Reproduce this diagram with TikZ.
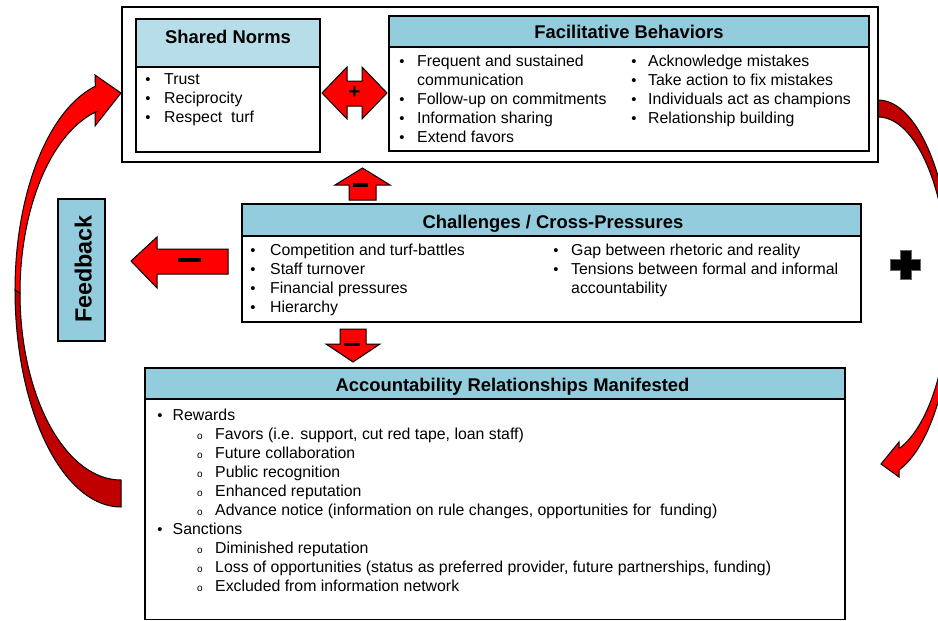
\documentclass[tikz,border=0pt]{standalone}
\usepackage{fontspec}
\setmainfont{Liberation Sans}
\definecolor{hdr}{HTML}{93CDDD}
\definecolor{hdrlight}{HTML}{B7DEE8}
\definecolor{brightred}{HTML}{FF0000}
\definecolor{darkred}{HTML}{C00000}
\newcommand\itm[5]{\node[bul] (#1-b) at (#2,#4) {•}; \node[body] (#1) at (#3,#4) {#5};}
\newcommand\sitm[5]{\node[subbul] (#1-b) at (#2,#4) {o}; \node[body] (#1) at (#3,#4) {#5};}
\newcommand\cont[4]{\node[body] (#1) at (#2,#3) {#4};}
\begin{document}
\begin{tikzpicture}[x=1pt,y=-1pt,
  boxnode/.style={draw=black, line width=1.6pt, inner sep=0pt, outer sep=0pt, anchor=north west},
  hdrnode/.style={draw=black, line width=1.6pt, inner sep=0pt, outer sep=0pt, anchor=north},
  hdrtext/.style={anchor=base, inner sep=0pt, font=\fontsize{18.4}{22}\selectfont\bfseries},
  body/.style={anchor=base west, inner sep=0pt, font=\fontsize{15.85}{19}\selectfont},
  bul/.style={anchor=base, inner sep=0pt, font=\fontsize{14.75}{18}\selectfont},
  subbul/.style={anchor=base, inner sep=0pt, font=\fontsize{10}{11}\selectfont},
  arrowline/.style={draw=black, line width=1pt, line join=miter},
  blockarrow/.style={fill=brightred, draw=black, line width=1pt, line join=miter},
  minusbar/.style={fill=black, draw=none},
]
\useasboundingbox (0,0) rectangle (938,621);
\clip (0,0) rectangle (938,621);

% ---------- curved feedback arrows ----------
% left arrow (lower dark part, upper bright part)
\draw[arrowline, fill=darkred]
  plot[domain=90:180, samples=50] ({121+106*cos(\x)},{290+217*sin(\x)})
  -- plot[domain=180:90, samples=50] ({121+101*cos(\x)},{293+187*sin(\x)}) -- cycle;
\draw[arrowline, fill=brightred]
  plot[domain=180:256, samples=50] ({121+106*cos(\x)},{290+210*sin(\x)})
  -- (95,75) -- (121,93) -- (95,126) -- (95,112.3)
  -- plot[domain=255.1:180, samples=50] ({121+101*cos(\x)},{293+187*sin(\x)}) -- cycle;
% right arrow (upper dark part, lower bright part)
\draw[arrowline, fill=darkred]
  plot[domain=-90:0, samples=50] ({878+75*cos(\x)},{290+190*sin(\x)})
  -- plot[domain=0:-90, samples=50] ({878+71*cos(\x)},{290+173*sin(\x)}) -- cycle;
\draw[arrowline, fill=brightred]
  plot[domain=0:73.74, samples=50] ({878+75*cos(\x)},{290+187.5*sin(\x)})
  -- (899,477) -- (881,464) -- (899,442)
  -- plot[domain=72.8:0, samples=50] ({878+71*cos(\x)},{290+166*sin(\x)}) -- cycle;

% ---------- outer frame ----------
\node[boxnode, line width=2.6pt, minimum width=756pt, minimum height=155pt] (outer) at (122,7) {};

% ---------- Shared Norms ----------
\node[boxnode, minimum width=184pt, minimum height=133pt] (sn) at (136,19) {};
\node[hdrnode, fill=hdrlight, minimum width=184pt, minimum height=48pt] (snh) at (sn.north) {};
\node[hdrtext] (snt) at (228,43.3) {Shared Norms};
\itm{sn1}{148}{164}{84}{Trust}
\itm{sn2}{148}{164}{103}{Reciprocity}
\itm{sn3}{148}{164}{122}{Respect~ turf}

% ---------- double arrow ----------
\draw[blockarrow] (322,93) -- (347,67) -- (347,81) -- (362,81) -- (362,67) -- (387,93)
  -- (362,119) -- (362,106) -- (347,106) -- (347,119) -- cycle;
\node[inner sep=0pt, font=\fontsize{20}{20}\selectfont\bfseries] (dplus) at (354.5,93) {+};

% ---------- Facilitative Behaviors ----------
\node[boxnode, minimum width=480pt, minimum height=135pt] (fb) at (389,16) {};
\node[hdrnode, fill=hdr, minimum width=480pt, minimum height=31pt] (fbh) at (fb.north) {};
\node[hdrtext] (fbt) at (629,38.5) {Facilitative Behaviors};
\itm{fa1}{402}{417}{66.5}{Frequent and sustained}
\cont{fa1c}{417}{85.5}{communication}
\itm{fa2}{402}{417}{104.5}{Follow-up on commitments}
\itm{fa3}{402}{417}{123.5}{Information sharing}
\itm{fa4}{402}{417}{142.5}{Extend favors}
\itm{fb1}{634}{648}{66.5}{Acknowledge mistakes}
\itm{fb2}{634}{648}{85.5}{Take action to fix mistakes}
\itm{fb3}{634}{648}{104.5}{Individuals act as champions}
\itm{fb4}{634}{648}{123.5}{Relationship building}

% ---------- up arrow (minus) ----------
\draw[blockarrow] (362.5,168) -- (390,185) -- (376,185) -- (376,200) -- (349,200) -- (349,185) -- (335,185) -- cycle;
\fill[minusbar] (353,183.3) rectangle (368,186.7);

% ---------- Challenges ----------
\node[boxnode, minimum width=619pt, minimum height=118pt] (ch) at (242,204) {};
\node[hdrnode, fill=hdr, minimum width=619pt, minimum height=32pt] (chh) at (ch.north) {};
\node[hdrtext] (cht) at (553,228.3) {Challenges / Cross-Pressures};
\itm{ca1}{253}{270}{255}{Competition and turf-battles}
\itm{ca2}{253}{270}{274}{Staff turnover}
\itm{ca3}{253}{270}{293}{Financial pressures}
\itm{ca4}{253}{270}{312}{Hierarchy}
\itm{cb1}{556}{571}{255}{Gap between rhetoric and reality}
\itm{cb2}{556}{571}{274}{Tensions between formal and informal}
\cont{cb2c}{571}{293}{accountability}

% ---------- left arrow (minus) ----------
\draw[blockarrow] (131,261) -- (157,237) -- (157,249) -- (228,249) -- (228,274) -- (157,274) -- (157,288) -- cycle;
\fill[minusbar] (178,258.3) rectangle (201,261.7);

% ---------- Feedback ----------
\node[boxnode, fill=hdr, line width=1.4pt, minimum width=47pt, minimum height=142pt] (fbk) at (58,199) {};
\node[anchor=base, inner sep=0pt, rotate=90, font=\fontsize{23.4}{26}\selectfont\bfseries] (fbkt) at (91.7,269) {Feedback};

% ---------- down arrow (minus) ----------
\draw[blockarrow] (340,329) -- (366,329) -- (366,344) -- (380,344) -- (353,362) -- (326,344) -- (340,344) -- cycle;
\fill[minusbar] (344,343.3) rectangle (359.5,346.3);

% ---------- Accountability ----------
\node[boxnode, minimum width=700pt, minimum height=251.5pt] (ar) at (145,368) {};
\node[hdrnode, fill=hdr, minimum width=700pt, minimum height=31pt] (arh) at (ar.north) {};
\node[hdrtext] (art) at (512.5,391.7) {Accountability Relationships Manifested};
\itm{r0}{160}{172.5}{420}{Rewards}
\sitm{r1}{200}{215}{439.1}{Favors (i.e. support, cut red tape, loan staff)}
\sitm{r2}{200}{215}{458.2}{Future collaboration}
\sitm{r3}{200}{215}{477.3}{Public recognition}
\sitm{r4}{200}{215}{496.4}{Enhanced reputation}
\sitm{r5}{200}{215}{515.5}{Advance notice (information on rule changes, opportunities for~ funding)}
\itm{s0}{160}{172.5}{534.6}{Sanctions}
\sitm{s1}{200}{215}{553.7}{Diminished reputation}
\sitm{s2}{200}{215}{572.8}{Loss of opportunities (status as preferred provider, future partnerships, funding)}
\sitm{s3}{200}{215}{591.9}{Excluded from information network}

% ---------- big plus ----------
\draw[fill=black, draw=black!60, line width=0.6pt] (900,250) -- (911,250) -- (911,259) -- (920,259) -- (920,270)
  -- (911,270) -- (911,279) -- (900,279) -- (900,270) -- (890,270) -- (890,259) -- (900,259) -- cycle;
\end{tikzpicture}
\end{document}
